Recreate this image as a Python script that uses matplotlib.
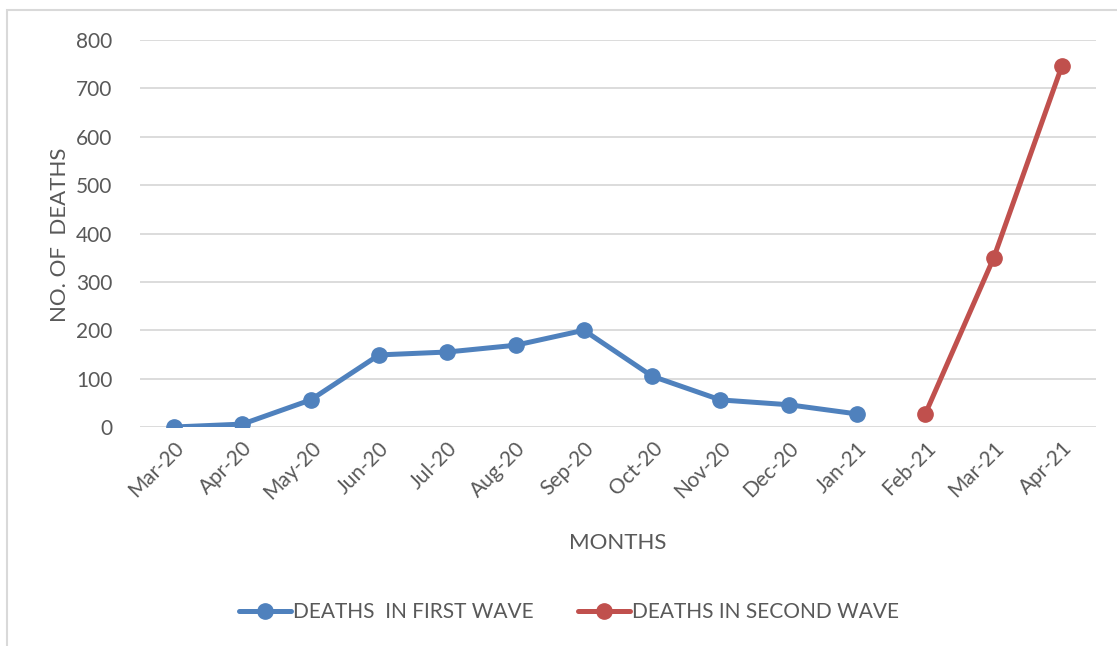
import matplotlib.pyplot as plt
from matplotlib.patches import Rectangle

# data
months = ["Mar-20", "Apr-20", "May-20", "Jun-20", "Jul-20", "Aug-20", "Sep-20",
          "Oct-20", "Nov-20", "Dec-20", "Jan-21", "Feb-21", "Mar-21", "Apr-21"]
first_wave = [0, 6, 56, 149, 155, 169, 200, 105, 56, 46, 27]
second_wave = [27, 349, 746]
first_idx = list(range(0, 11))
second_idx = list(range(11, 14))

plt.rcParams['font.family'] = ['Lato', 'DejaVu Sans']
txt = '#595959'

fig = plt.figure(figsize=(11.17, 6.46), dpi=100)
ax = fig.add_axes([140 / 1117, 1 - 427 / 646, (1096 - 140) / 1117, (427 - 40) / 646])

ax.plot(first_idx, first_wave, color='#4F81BD', lw=3.6, marker='o', ms=11,
        label='DEATHS  IN FIRST WAVE', solid_capstyle='round')
ax.plot(second_idx, second_wave, color='#C0504D', lw=3.6, marker='o', ms=11,
        label='DEATHS IN SECOND WAVE', solid_capstyle='round')

ax.set_xlim(-0.5, 13.5)
ax.set_ylim(0, 800)
ax.set_yticks(range(0, 801, 100))
ax.set_xticks(range(len(months)))
ax.set_xticklabels(months, rotation=45, ha='right', rotation_mode='anchor')
ax.tick_params(length=0, labelsize=15, colors=txt, pad=8)
ax.tick_params(axis='y', pad=20)
ax.yaxis.grid(True, color='#D9D9D9', lw=1.3)
ax.set_axisbelow(True)
for s in ax.spines.values():
    s.set_visible(False)

fig.text(60 / 1117, 1 - 235 / 646, 'NO. OF  DEATHS', rotation=90, ha='center',
         va='center', fontsize=16, color=txt)
fig.text(618 / 1117, 1 - 543 / 646, 'MONTHS', ha='center', va='center',
         fontsize=16, color=txt)

fig.legend(loc='center', bbox_to_anchor=(569 / 1117, 1 - 612 / 646), ncol=2,
           frameon=False, fontsize=15, labelcolor=txt, handlelength=2.5,
           handletextpad=0.1, columnspacing=2.1)

# outer chart border (runs off the right and bottom edges)
fig.patches.append(Rectangle((7 / 1117, -0.1), 1.2, 1 - 10 / 646 + 0.1,
                             transform=fig.transFigure, fill=False,
                             edgecolor='#D9D9D9', lw=1.5))

fig.savefig('out.png', dpi=100)
